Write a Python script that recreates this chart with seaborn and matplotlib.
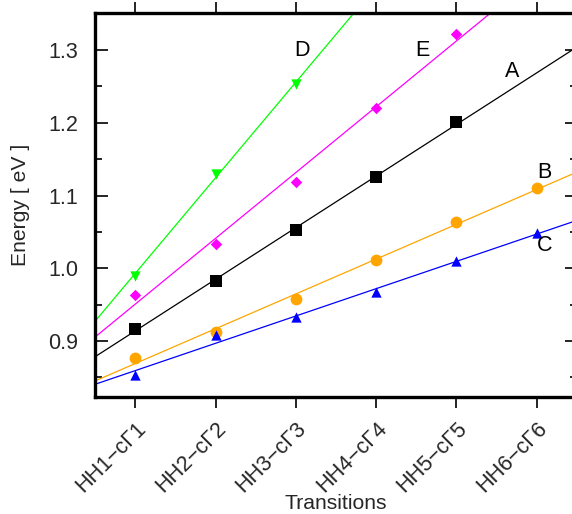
import numpy as np
import pandas as pd
import matplotlib
matplotlib.use("Agg")
import matplotlib.pyplot as plt
from matplotlib.ticker import MultipleLocator
import seaborn as sns

transitions = ["HH1\u2212c\u03931", "HH2\u2212c\u03932", "HH3\u2212c\u03933",
               "HH4\u2212c\u03934", "HH5\u2212c\u03935", "HH6\u2212c\u03936"]
x_A = [1, 2, 3, 4, 5]
y_A = [0.917, 0.983, 1.053, 1.125, 1.201]
x_B = [1, 2, 3, 4, 5, 6]
y_B = [0.877, 0.912, 0.958, 1.011, 1.063, 1.111]
x_C = [1, 2, 3, 4, 5, 6]
y_C = [0.853, 0.908, 0.933, 0.967, 1.010, 1.048]
x_D = [1, 2, 3]
y_D = [0.990, 1.130, 1.253]
x_E = [1, 2, 3, 4, 5]
y_E = [0.963, 1.034, 1.118, 1.221, 1.322]
labels = ["A", "B", "C", "D", "E"]

sns.set_style("ticks")
plt.rcParams["font.family"] = ["Liberation Sans", "DejaVu Sans"]

fig = plt.figure(figsize=(5.72, 5.14), dpi=100)
ax = fig.add_axes([95 / 572, 1 - 397 / 514, (577 - 95) / 572, (397 - 13) / 514])

series = [
    (x_A, y_A, "black", "s", 68),
    (x_B, y_B, "#ffa500", "o", 72),
    (x_C, y_C, "#0000ff", "^", 55),
    (x_D, y_D, "#00ff00", "v", 55),
    (x_E, y_E, "#ff00ff", "D", 34),
]
xfit = np.array([0.5, 6.5])
for xs, ys, col, mk, s in series:
    k, b = np.polyfit(xs, ys, 1)
    fit = pd.DataFrame({"x": xfit, "y": k * xfit + b})
    sns.lineplot(data=fit, x="x", y="y", color=col, linewidth=0.9, ax=ax)
    df = pd.DataFrame({"x": xs, "y": ys})
    sns.scatterplot(data=df, x="x", y="y", color=col, marker=mk, s=s,
                    linewidth=0, ax=ax, zorder=3)

label_pos = {"A": (5.69, 1.270), "B": (6.10, 1.131), "C": (6.10, 1.031),
             "D": (3.08, 1.300), "E": (4.58, 1.300)}
for lab in labels:
    px, py = label_pos[lab]
    ax.text(px, py, lab, fontsize=15.5, ha="center", va="center", color="black")

ax.set_xlim(0.5, 6.5)
ax.set_ylim(0.823, 1.351)
ax.set_xticks(range(1, 7))
ax.set_xticklabels(transitions, rotation=45, ha="right", rotation_mode="anchor")
ax.yaxis.set_major_locator(MultipleLocator(0.1))
ax.yaxis.set_minor_locator(MultipleLocator(0.05))
ax.set_yticks([0.9, 1.0, 1.1, 1.2, 1.3])
ax.set_yticklabels(["0.9", "1.0", "1.1", "1.2", "1.3"])

for sp in ["left", "bottom", "top"]:
    ax.spines[sp].set_linewidth(2.4)
    ax.spines[sp].set_color("black")
ax.spines["right"].set_visible(False)

ax.tick_params(axis="x", which="major", direction="out", top=True, bottom=True,
               length=8, width=1.2, labelsize=15.5, pad=7, color="black")
ax.tick_params(axis="y", which="major", direction="in", left=True, right=True,
               length=9, width=1.2, labelsize=15.5, pad=12, color="black")
ax.tick_params(axis="y", which="minor", direction="in", left=True, right=True,
               length=5, width=1.2, color="black")

ax.set_xlabel("Transitions", fontsize=15.2, labelpad=-2)
ax.set_ylabel("Energy [ eV ]", fontsize=15.2, labelpad=13)

fig.savefig("out.png", dpi=100)
